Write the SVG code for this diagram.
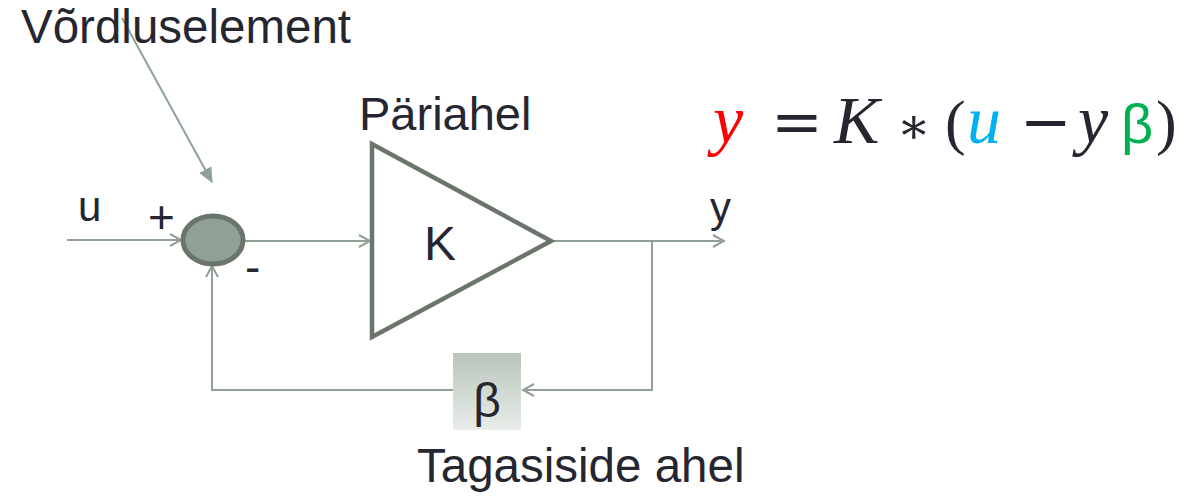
<svg xmlns="http://www.w3.org/2000/svg" width="1203" height="499" viewBox="0 0 1203 499">
<defs>
<marker id="open" markerWidth="14" markerHeight="14" refX="12" refY="7" orient="auto" markerUnits="userSpaceOnUse"><path d="M1,1 L12,7 L1,13" fill="none" stroke="#8fa295" stroke-width="2"/></marker>
<marker id="solid" markerWidth="16" markerHeight="16" refX="14" refY="8" orient="auto" markerUnits="userSpaceOnUse"><path d="M0,1 L15,8 L0,15 Z" fill="#8fa295"/></marker>
<linearGradient id="bg" x1="0" y1="0" x2="0" y2="1"><stop offset="0" stop-color="#b8c5bb"/><stop offset="1" stop-color="#e9ede9"/></linearGradient>
<style>
.t{font-family:"Liberation Sans",Arial,sans-serif;fill:#262630}
.c{fill:none;stroke:#8fa295;stroke-width:2}
.m{font-family:"Liberation Serif","Times New Roman",serif;font-size:62px;fill:#262630}
.op{font-family:"DejaVu Serif",serif}
.i{font-style:italic;font-size:68px}
</style>
</defs>
<rect width="1203" height="499" fill="#fff"/>
<g id="connectors">
<line class="c" x1="67" y1="240" x2="181" y2="240" marker-end="url(#open)"/>
<line class="c" x1="245" y1="241" x2="370" y2="241" marker-end="url(#open)"/>
<line class="c" x1="552" y1="241" x2="724" y2="241" marker-end="url(#open)"/>
<polyline class="c" points="652,241 652,390 523,390" marker-end="url(#open)"/>
<polyline class="c" points="453,390 212,390 212,266" marker-end="url(#open)"/>
<line class="c" x1="122" y1="18" x2="212" y2="182" marker-end="url(#solid)"/>
</g>
<g id="comparator">
<ellipse cx="213" cy="240" rx="30" ry="24" fill="#90a096" stroke="#6a766c" stroke-width="5"/>
<text class="t" x="148" y="233" font-size="46">+</text>
<text class="t" x="245" y="283" font-size="46">-</text>
</g>
<g id="forward">
<polygon points="372,144 372,337 551,241" fill="#fff" stroke="#6a766c" stroke-width="4.5" stroke-linejoin="miter"/>
<text class="t" x="424" y="260" font-size="48">K</text>
</g>
<g id="feedback">
<rect x="453" y="353" width="68" height="77" fill="url(#bg)"/>
<text class="t" x="487" y="417" font-size="48" text-anchor="middle">β</text>
</g>
<g id="labels">
<text class="t" x="21" y="43" font-size="47.5">Võrdluselement</text>
<text class="t" x="359" y="130" font-size="47">Päriahel</text>
<text class="t" x="78" y="221" font-size="42">u</text>
<text class="t" x="710" y="222" font-size="42">y</text>
<text class="t" x="417" y="482" font-size="47.5">Tagasiside ahel</text>
</g>
<g id="equation">
<text class="m" y="143"><tspan class="i" x="713" fill="#ff0000">y</tspan><tspan class="op" x="771">=</tspan><tspan class="i" x="834">K</tspan><tspan class="op" x="897" font-size="50">∗</tspan><tspan x="945">(</tspan><tspan class="i" x="967" fill="#00b0f0">u</tspan><tspan class="op" x="1020">−</tspan><tspan class="i" x="1078">y</tspan><tspan x="1121" fill="#00b050" font-family="Liberation Sans,sans-serif" font-size="56">β</tspan><tspan x="1156">)</tspan></text>
</g>
</svg>
